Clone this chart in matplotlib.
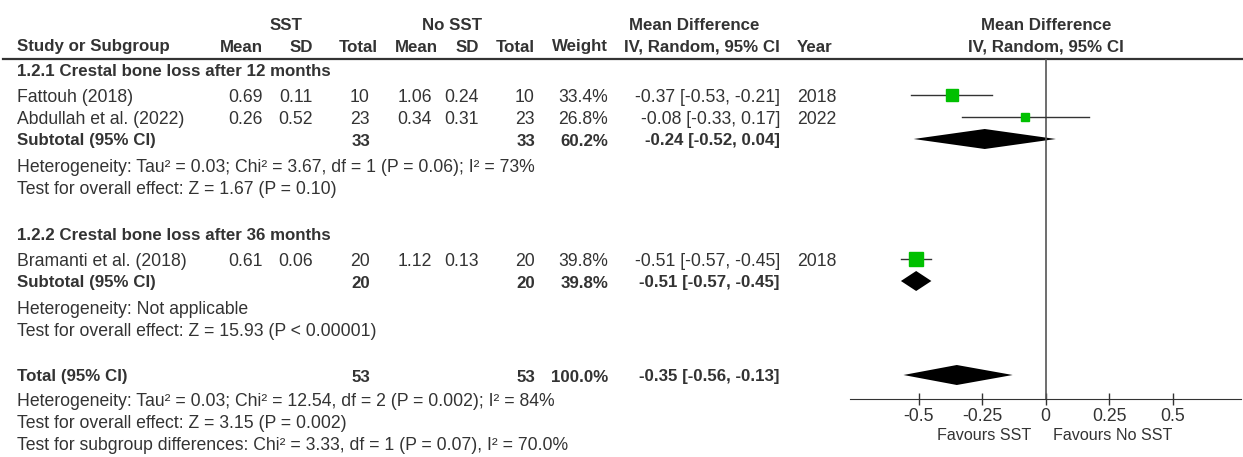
import matplotlib
matplotlib.use('Agg')
import matplotlib.pyplot as plt

plt.rcParams['font.family'] = ['Liberation Sans', 'DejaVu Sans']

# ---- data ----
studies = ['Fattouh (2018)', 'Abdullah et al. (2022)', 'Bramanti et al. (2018)']
study_group = [0, 0, 1]
sst_mean = [0.69, 0.26, 0.61]
sst_sd = [0.11, 0.52, 0.06]
sst_n = [10, 23, 20]
no_mean = [1.06, 0.34, 1.12]
no_sd = [0.24, 0.31, 0.13]
no_n = [10, 23, 20]
weights = [33.4, 26.8, 39.8]
md = [-0.37, -0.08, -0.51]
md_lo = [-0.53, -0.33, -0.57]
md_hi = [-0.21, 0.17, -0.45]
years = [2018, 2022, 2018]

groups = ['1.2.1 Crestal bone loss after 12 months',
          '1.2.2 Crestal bone loss after 36 months']
sub_n_sst = [33, 20]
sub_n_no = [33, 20]
sub_weight = [60.2, 39.8]
sub_md = [-0.24, -0.51]
sub_lo = [-0.52, -0.57]
sub_hi = [0.04, -0.45]
sub_het = ['Heterogeneity: Tau\u00b2 = 0.03; Chi\u00b2 = 3.67, df = 1 (P = 0.06); I\u00b2 = 73%',
           'Heterogeneity: Not applicable']
sub_test = ['Test for overall effect: Z = 1.67 (P = 0.10)',
            'Test for overall effect: Z = 15.93 (P < 0.00001)']

tot_n_sst = 53
tot_n_no = 53
tot_weight = 100.0
tot_md = -0.35
tot_lo = -0.56
tot_hi = -0.13
tot_notes = ['Heterogeneity: Tau\u00b2 = 0.03; Chi\u00b2 = 12.54, df = 2 (P = 0.002); I\u00b2 = 84%',
             'Test for overall effect: Z = 3.15 (P = 0.002)',
             'Test for subgroup differences: Chi\u00b2 = 3.33, df = 1 (P = 0.07), I\u00b2 = 70.0%']

ticks = [-0.5, -0.25, 0, 0.25, 0.5]
tick_labels = ['-0.5', '-0.25', '0', '0.25', '0.5']
favours = ['Favours SST', 'Favours No SST']

# ---- layout (pixels) ----
W, H = 1243, 457
FS = 12.7
FSB = 12.2
TXT = '#333333'
GREEN = '#00c000'

fig = plt.figure(figsize=(W / 100, H / 100), dpi=100)
tx = fig.add_axes([0, 0, 1, 1])
tx.set_xlim(0, W)
tx.set_ylim(H, 0)
tx.axis('off')

X0 = 1045.7      # pixel of zero
PPU = 254.0      # pixels per unit
TOP, BOT = 59, 399
xmin, xmax = -0.77, 0.77
fx = fig.add_axes([(X0 + xmin * PPU) / W, (H - BOT) / H,
                   (xmax - xmin) * PPU / W, (BOT - TOP) / H])
fx.set_xlim(xmin, xmax)
fx.set_ylim(BOT, TOP)
fx.patch.set_alpha(0)
for s in ['top', 'left', 'right']:
    fx.spines[s].set_visible(False)
fx.spines['bottom'].set_color('#333333')
fx.set_yticks([])
fx.set_xticks(ticks)
fx.set_xticklabels(tick_labels, fontsize=FS, color=TXT)
fx.tick_params(axis='x', direction='inout', length=9, width=1, color='#333333', pad=2)
fx.axvline(0, color='#555555', lw=1.2)


def t(x, y, s, ha='left', bold=False, size=None):
    if size is None:
        size = FSB if bold else FS
    tx.text(x, y, s, ha=ha, va='center', fontsize=size, color=TXT,
            fontweight='bold' if bold else 'normal')


def ci(m, lo, hi):
    return '%.2f [%.2f, %.2f]' % (m, lo, hi)


def diamond(m, lo, hi, y, h=10):
    fx.fill([lo, m, hi, m], [y, y - h, y, y + h], color='black', lw=0)


# columns
C_NAME = 17
C_SM, C_SSD, C_SN = 263, 313, 370
C_NM, C_NSD, C_NN = 432, 479, 535
C_W, C_CI, C_YR = 608, 780, 797

# headers
t(286, 25, 'SST', 'center', True)
t(452, 25, 'No SST', 'center', True)
t(694, 25, 'Mean Difference', 'center', True)
t(X0, 25, 'Mean Difference', 'center', True)
t(C_NAME, 47, 'Study or Subgroup', bold=True)
t(263, 47, 'Mean', 'right', True)
t(313, 47, 'SD', 'right', True)
t(378, 47, 'Total', 'right', True)
t(438, 47, 'Mean', 'right', True)
t(479, 47, 'SD', 'right', True)
t(535, 47, 'Total', 'right', True)
t(C_W, 47, 'Weight', 'right', True)
t(C_CI, 47, 'IV, Random, 95% CI', 'right', True)
t(C_YR, 47, 'Year', bold=True)
t(X0, 47, 'IV, Random, 95% CI', 'center', True)
tx.plot([3, W], [TOP, TOP], color='#333333', lw=1.6)

y = 72
for g in range(len(groups)):
    t(C_NAME, y, groups[g], bold=True)
    first = True
    for i in range(len(studies)):
        if study_group[i] != g:
            continue
        y += 26 if first else 22
        first = False
        t(C_NAME, y, studies[i])
        t(C_SM, y, '%.2f' % sst_mean[i], 'right')
        t(C_SSD, y, '%.2f' % sst_sd[i], 'right')
        t(C_SN, y, str(sst_n[i]), 'right')
        t(C_NM, y, '%.2f' % no_mean[i], 'right')
        t(C_NSD, y, '%.2f' % no_sd[i], 'right')
        t(C_NN, y, str(no_n[i]), 'right')
        t(C_W, y, '%.1f%%' % weights[i], 'right')
        t(C_CI, y, ci(md[i], md_lo[i], md_hi[i]), 'right')
        t(C_YR, y, str(years[i]))
        fx.plot([md_lo[i], md_hi[i]], [y - 3, y - 3], color='#333333', lw=1)
        fx.plot(md[i], y - 3, marker='s', ms=weights[i] * 0.33 * 0.72,
                mfc=GREEN, mec=GREEN, ls='none')
    y += 21
    t(C_NAME, y, 'Subtotal (95% CI)', bold=True)
    t(C_SN, y, str(sub_n_sst[g]), 'right', True)
    t(C_NN, y, str(sub_n_no[g]), 'right', True)
    t(C_W, y, '%.1f%%' % sub_weight[g], 'right', True)
    t(C_CI, y, ci(sub_md[g], sub_lo[g], sub_hi[g]), 'right', True)
    diamond(sub_md[g], sub_lo[g], sub_hi[g], y - 2)
    y += 26
    t(C_NAME, y, sub_het[g])
    y += 22
    t(C_NAME, y, sub_test[g])
    if g < len(groups) - 1:
        y += 47

y += 46
t(C_NAME, y, 'Total (95% CI)', bold=True)
t(C_SN, y, str(tot_n_sst), 'right', True)
t(C_NN, y, str(tot_n_no), 'right', True)
t(C_W, y, '%.1f%%' % tot_weight, 'right', True)
t(C_CI, y, ci(tot_md, tot_lo, tot_hi), 'right', True)
diamond(tot_md, tot_lo, tot_hi, y - 2)
y += 3
for note in tot_notes:
    y += 22
    t(C_NAME, y, note)

t(X0 - 14, 435, favours[0], 'right', size=11.6)
t(X0 + 7, 435, favours[1], 'left', size=11.6)

fig.savefig('out.png', dpi=100)
